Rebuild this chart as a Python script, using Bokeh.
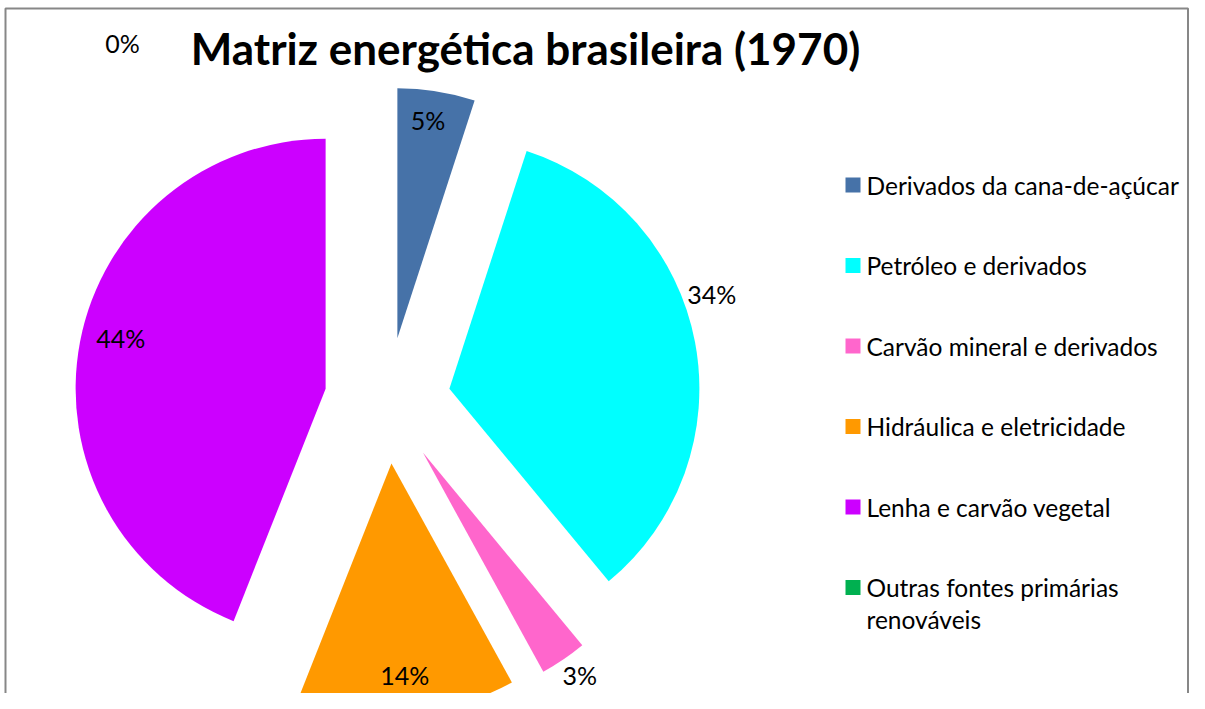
import math
import textwrap
from bokeh.plotting import figure
from bokeh.models import Range1d
from bokeh.core.properties import value
from bokeh.embed import file_html
from bokeh.resources import INLINE

# ---- data ----
categories = ["Derivados da cana-de-açúcar", "Petróleo e derivados",
              "Carvão mineral e derivados", "Hidráulica e eletricidade",
              "Lenha e carvão vegetal", "Outras fontes primárias renováveis"]
values = [5, 34, 3, 14, 44, 0]
colors = ["#4672A8", "#00FFFF", "#FF66CC", "#FF9900", "#CC00FF", "#00B050"]
title_text = "Matriz energética brasileira (1970)"

# ---- layout (image pixel coords, y downward -> negative y) ----
W, H = 1189, 693
FONT = "Lato"
cx, cy = 387, 400          # pie centre
R = 250                    # radius
explode = 63               # explosion distance
label_r = [220, 279, 272, 212, 211, 396]
label_dang = [-1, -9, -1, 0, 3, -42]

p = figure(width=W, height=H, output_backend="svg", toolbar_location=None,
           x_range=Range1d(0, W), y_range=Range1d(-H, 0),
           x_axis_type=None, y_axis_type=None, min_border=0)
p.grid.visible = False
p.outline_line_color = None
p.background_fill_color = "white"
p.border_fill_color = "white"

# chart border (left, top, right)
p.line(x=[5, 5, W - 1.5, W - 1.5], y=[-H, -8, -8, -H], line_color="#878787",
       line_width=2)

total = float(sum(values))
cum = 0.0
wx, wy, ws, we, wc = [], [], [], [], []
lx, ly, lt = [], [], []
for i, v in enumerate(values):
    frac = v / total
    a0 = cum * 360.0
    a1 = (cum + frac) * 360.0
    mid = (a0 + a1) / 2.0                # clockwise from top, degrees
    mr = math.radians(mid)
    ox = cx + explode * math.sin(mr)
    oy = -cy + explode * math.cos(mr)
    if v > 0:
        wx.append(ox); wy.append(oy)
        ws.append(math.pi / 2 - math.radians(a0))
        we.append(math.pi / 2 - math.radians(a1))
        wc.append(colors[i])
    la = math.radians(mid + label_dang[i])
    lx.append(ox + label_r[i] * math.sin(la))
    ly.append(oy + label_r[i] * math.cos(la))
    lt.append(f"{v}%")
    cum += frac

p.wedge(x=wx, y=wy, radius=R, start_angle=ws, end_angle=we, direction="clock",
        fill_color=wc, line_color=None)

p.text(x=lx, y=ly, text=lt, text_font=value(FONT), text_font_size="25px",
       text_color="black", text_align="center", text_baseline="middle")

# title
p.text(x=[525], y=[-47], text=[title_text], text_font=value(FONT),
       text_font_size="44px", text_font_style="bold", text_color="black",
       text_align="center", text_baseline="middle")

# legend
leg_x, leg_y0, leg_dy, line_h = 852.5, 184.5, 80.5, 32
sx, sy, sc, tx, ty, tt = [], [], [], [], [], []
for i, c in enumerate(categories):
    yy = leg_y0 + i * leg_dy
    sx.append(leg_x); sy.append(-yy); sc.append(colors[i])
    for j, line in enumerate(textwrap.wrap(c, 28)):
        tx.append(866); ty.append(-(yy + j * line_h)); tt.append(line)
p.scatter(x=sx, y=sy, marker="square", size=15, fill_color=sc, line_color=None)
p.text(x=tx, y=ty, text=tt, text_font=value(FONT), text_font_size="24.5px",
       text_color="black", text_align="left", text_baseline="middle")

open("out.html", "w").write(file_html(p, INLINE))
